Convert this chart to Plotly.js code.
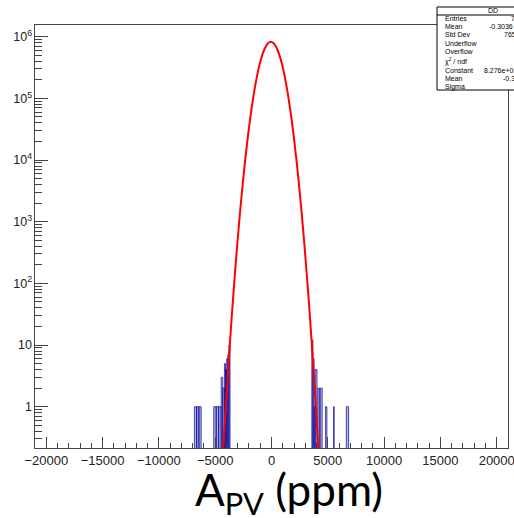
<!DOCTYPE html>
<html>
<head>
<meta charset="utf-8">
<script src="https://cdn.plot.ly/plotly-3.0.1.min.js"></script>
<style>
  html, body { margin: 0; padding: 0; background: #fff; overflow: hidden; }
  #chart { width: 514px; height: 518px; }
</style>
</head>
<body>
<div id="chart"></div>
<script>
// ---- Data ----
// Gaussian fit curve (red), sampled
var fitX = [-4310,-4060,-3810,-3560,-3310,-3060,-2810,-2560,-2310,-2060,-1810,-1560,-1310,-1060,-810,-560,-310,-60,
            190,440,690,940,1190,1440,1690,1940,2190,2440,2690,2940,3190,3440,3690,3940,4190];
var fitY = [0.171,0.992,5.17,24.25,102.1,386.6,1316,4027,11070,27390,60880,121700,218600,353000,512500,668800,784600,827600,
            784600,668800,512500,353000,218600,121700,60880,27390,11070,4027,1316,386.6,102.1,24.25,5.17,0.992,0.171];

// Histogram bins visible in the tails (blue)
var binLow  = [-6845,-6645,-6445,-5130,-4910,-4690,-4470,-4330,-4180,-4080,-3980,-3880,-3780,
               3580,3680,3780,3880,4120,4330,4800,5510,6640];
var binHigh = [-6645,-6445,-6245,-4910,-4690,-4470,-4330,-4180,-4080,-3980,-3880,-3780,-3680,
               3680,3780,3880,4040,4270,4500,4920,5570,6845];
var binCount= [1,1,1,1,1,1,3,2,5,4,6,7,10,
               12,6,1,4,2,2,1,1,1];

// Axis ticks
var xTickVals = [-20000,-15000,-10000,-5000,0,5000,10000,15000,20000];

// Stats box text
var statLabels = ["Entries","Mean","Std Dev","Underflow","Overflow","\u03c7<sup>2</sup> / ndf","Constant","Mean","Sigma"];
var statValues = ["7357221","-0.3036","765.93","","","","8.276e+05 \u00b1 3.6e+02","-0.3151 \u00b1 0.2","",""];
var statTitle = "DD";

// ---- Build ----
var W = 514, H = 518;
var L = 35, R = 6, T = 25, B = 70;
var pw = W - L - R, ph = H - T - B;
function px(x) { return (x - L) / pw; }
function py(y) { return (H - B - y) / ph; }

var centers = [], widths = [];
for (var i = 0; i < binLow.length; i++) {
  centers.push((binLow[i] + binHigh[i]) / 2);
  widths.push(binHigh[i] - binLow[i]);
}

var traces = [
  {
    type: 'bar', x: centers, y: binCount, width: widths,
    marker: { color: 'rgba(0,0,153,0.3)', line: { color: 'rgba(0,0,153,0.85)', width: 0.8 } },
    hoverinfo: 'skip', showlegend: false
  },
  {
    type: 'scatter', mode: 'lines', x: fitX, y: fitY,
    line: { color: '#ff0000', width: 2, shape: 'spline', smoothing: 0.6 },
    hoverinfo: 'skip', showlegend: false
  }
];

var shapes = [
  { type: 'rect', xref: 'paper', yref: 'paper', x0: px(437), x1: px(549), y0: py(90), y1: py(7),
    line: { color: '#000', width: 1 }, fillcolor: '#fff', layer: 'above' },
  { type: 'line', xref: 'paper', yref: 'paper', x0: px(437), x1: px(549), y0: py(15), y1: py(15),
    line: { color: '#000', width: 1 }, layer: 'above' }
];

var annotations = [];
var statFont = { family: 'Liberation Sans, Arial, sans-serif', size: 7, color: '#000' };
annotations.push({ xref: 'paper', yref: 'paper', x: px(493), y: py(11), text: statTitle,
  showarrow: false, xanchor: 'center', yanchor: 'middle', font: statFont });
var rowY = [19, 26.5, 34, 43.5, 52, 61, 70.5, 79, 87];
var valX = [509, 487, 502, 0, 0, 0, 482, 501, 0];
for (var r = 0; r < statLabels.length; r++) {
  annotations.push({ xref: 'paper', yref: 'paper', x: px(443), y: py(rowY[r]), text: statLabels[r],
    showarrow: false, xanchor: 'left', yanchor: 'middle', font: statFont });
  if (statValues[r] && valX[r]) {
    annotations.push({ xref: 'paper', yref: 'paper', x: px(valX[r]), y: py(rowY[r]), text: statValues[r],
      showarrow: false, xanchor: 'left', yanchor: 'middle', font: statFont });
  }
}
annotations.push({ xref: 'paper', yref: 'paper', x: px(289), y: py(461),
  text: 'A<sub>PV</sub> (ppm)', showarrow: false, xanchor: 'center', yanchor: 'top',
  font: { family: 'Lato, Open Sans, sans-serif', size: 44, color: '#000' } });

var layout = {
  width: W, height: H,
  margin: { l: L, r: R, t: T, b: B, pad: 0 },
  paper_bgcolor: '#fff', plot_bgcolor: '#fff',
  showlegend: false, bargap: 0,
  xaxis: {
    range: [-21000, 21000], tickvals: xTickVals, ticktext: xTickVals.map(function (v) { return v < 0 ? '\u2212' + (-v) : String(v); }),
    ticks: 'inside', ticklen: 11, tickwidth: 1, tickcolor: '#444', ticklabeloverflow: 'allow',
    minor: { dtick: 1000, tick0: 0, ticks: 'inside', ticklen: 5, tickcolor: '#444', tickwidth: 1, showgrid: false },
    showline: true, linecolor: '#444', linewidth: 1, mirror: true,
    showgrid: false, zeroline: false,
    tickfont: { family: 'Liberation Sans, Arial, sans-serif', size: 13, color: '#222' }
  },
  yaxis: {
    type: 'log', range: [-0.67, 6.19], dtick: 1, exponentformat: 'power',
    ticks: 'inside', ticklen: 13, tickwidth: 1, tickcolor: '#444',
    minor: { dtick: 'D1', ticks: 'inside', ticklen: 7, tickcolor: '#444', tickwidth: 1, showgrid: false },
    showline: true, linecolor: '#444', linewidth: 1, mirror: true,
    showgrid: false, zeroline: false,
    tickfont: { family: 'Liberation Sans, Arial, sans-serif', size: 10, color: '#222' }
  },
  shapes: shapes,
  annotations: annotations
};

Plotly.newPlot('chart', traces, layout, { staticPlot: true, displayModeBar: false });
</script>
</body>
</html>
